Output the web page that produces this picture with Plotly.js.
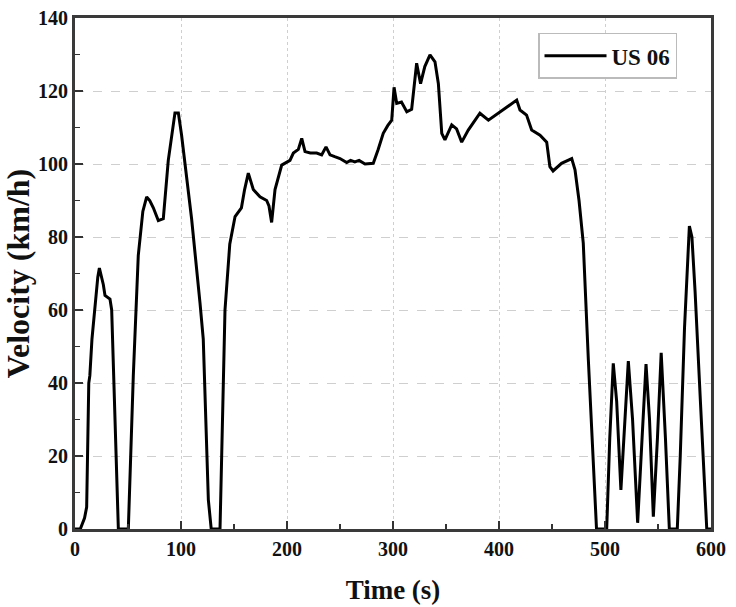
<!DOCTYPE html>
<html>
<head>
<meta charset="utf-8">
<script src="https://cdn.plot.ly/plotly-3.0.1.min.js"></script>
<style>html,body{margin:0;padding:0;background:#fff;}#chart{width:736px;height:607px;}</style>
</head>
<body>
<div id="chart"></div>
<script>
const seriesName = "US 06";
const time = [0,5,9,11,13,14,16,18.9,21.5,23,25,26.7,28.3,33,34.6,38,40.9,50.3,52.5,55,59.7,64,67.6,70.5,73.9,78.6,83.3,88,94.3,97.5,100.5,103.8,110,117.9,121,125.8,128.5,136.8,138.5,141.5,146,151,157,160,163.5,168.2,174.5,180.8,183,185.5,188.7,195,202.8,206,210.7,213.9,217,222,228,232.7,236.8,240.6,245,250,256.3,260,264,268,273.6,281.4,286,290.8,295,298.8,301,303.5,308,313,317.6,322.3,326,330,334.9,339.6,342.8,346,349,355.4,360,364.8,371,376,382,390,399.4,407.2,411.9,416.7,419.8,426,430.8,438.7,445,448,451,459,468.6,471.7,475.5,479.5,484.3,489,492,501.6,504.5,507.8,511,515,518.5,522,526,530.8,535,538.7,542,545.6,549.5,553,557,560.7,568.2,571,575,579.6,582,585,590,596,600];
const velocity = [0,0,3,6,40,42,52,62,69,71.5,69,67,64,63,60,30,0,0,20,42,75,87,91,90,88,84.5,85,101,114,114,108,100,85,62,52,8,0,0,25,60,78,85.6,88,93,97.5,93,91,90,88.5,84,93,99.7,101,103,104,107,103.4,103,103,102.5,104.7,102.5,102,101.5,100.4,101,100.6,101,100,100.2,104,108.4,110.5,112,121,116.6,117,114.3,115,127.6,122,126.7,129.9,128,122,108.4,106.6,110.7,109.6,106,109.3,111.5,113.9,112,113.9,115.7,116.6,117.5,114.8,113.4,109.3,107.9,106,99.3,98.1,100.2,101.5,98.4,90,78.3,46.3,18.9,0,0,25,45.4,35,10.7,30,46,30,1.7,25,45.2,30,3.4,25,48.3,25,0,0,20,55,83,80,65,35,0,0];

const xTickVals = [0,100,200,300,400,500,600];
const yTickVals = [0,20,40,60,80,100,120,140];

const fontFam = "'Liberation Serif', 'Times New Roman', serif";
const axisCommon = {
  ticks: 'inside', ticklen: 8, tickwidth: 2, tickcolor: '#333',
  showline: true, linewidth: 3, linecolor: '#3a3a3a', mirror: true,
  showgrid: true, gridcolor: '#cfcfcf', gridwidth: 1,
  zeroline: false,
  tickfont: {family: fontFam, size: 20, weight: 'bold', color: '#111'}
};

const trace = {
  x: time, y: velocity, type: 'scatter', mode: 'lines', name: seriesName,
  line: {color: '#000', width: 3}
};

const layout = {
  width: 736, height: 607,
  margin: {l: 75, r: 25, t: 18, b: 78},
  paper_bgcolor: '#fff', plot_bgcolor: '#fff',
  showlegend: true,
  xaxis: Object.assign({}, axisCommon, {
    range: [0, 600], tickvals: xTickVals, griddash: 'dot',
    minor: {ticks: 'inside', dtick: 50, tick0: 0, ticklen: 5, tickwidth: 1.5, tickcolor: '#333', showgrid: false},
    title: {text: 'Time (s)', font: {family: fontFam, size: 27, weight: 'bold', color: '#111'}, standoff: 22}
  }),
  yaxis: Object.assign({}, axisCommon, {
    range: [0, 140], tickvals: yTickVals, griddash: 'dash',
    minor: {ticks: 'inside', dtick: 10, tick0: 0, ticklen: 5, tickwidth: 1.5, tickcolor: '#333', showgrid: false},
    title: {text: 'Velocity (km/h)', font: {family: fontFam, size: 32, weight: 'bold', color: '#111'}, standoff: 12}
  }),
  legend: {
    x: 0.728, y: 0.971, xanchor: 'left', yanchor: 'top',
    bgcolor: '#fff', bordercolor: '#bbb', borderwidth: 1.5,
    font: {family: fontFam, size: 23, weight: 'bold', color: '#111'},
    itemwidth: 62
  }
};

Plotly.newPlot('chart', [trace], layout, {displayModeBar: false, staticPlot: true});
</script>
</body>
</html>
